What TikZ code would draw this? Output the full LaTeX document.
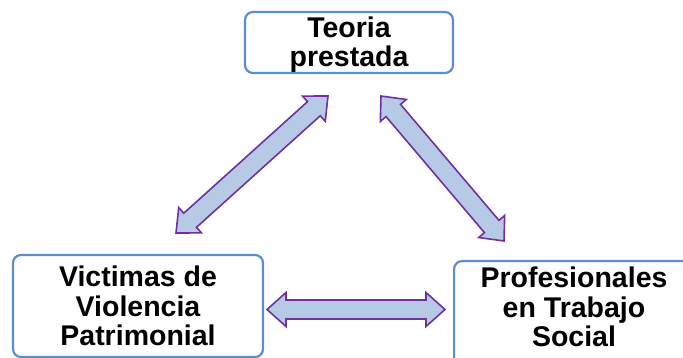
\documentclass[tikz,border=0pt]{standalone}
\usepackage{fontspec}
\setmainfont{Liberation Sans}
\usetikzlibrary{calc}
\definecolor{boxblue}{HTML}{5B8FCB}
\definecolor{arrfill}{HTML}{B6CAE6}
\definecolor{arrline}{HTML}{7030A0}
\tikzset{
  box/.style={draw=boxblue, line width=2.2pt, rounded corners=8pt, fill=white, inner sep=0pt},
  boxtext/.style={font=\fontsize{28.5}{29.5}\selectfont\bfseries, align=center, inner sep=0pt},
  dblarrow/.style={draw=arrline, fill=arrfill, line width=1.6pt, line join=miter},
}
% double block arrow between two named coordinates #1 and #2
\newcommand\dblarr[2]{%
  \path ($(#1)!19pt!(#2)$) coordinate (hA);
  \path ($(#2)!19pt!(#1)$) coordinate (hB);
  \path[dblarrow]
    (#1) -- ($(hA)!17pt!90:(#2)$) -- ($(hA)!9.5pt!90:(#2)$)
    -- ($(hB)!9.5pt!-90:(#1)$) -- ($(hB)!17pt!-90:(#1)$)
    -- (#2) -- ($(hB)!17pt!90:(#1)$) -- ($(hB)!9.5pt!90:(#1)$)
    -- ($(hA)!9.5pt!-90:(#2)$) -- ($(hA)!17pt!-90:(#2)$) -- cycle;
}
\begin{document}
\begin{tikzpicture}[x=1pt,y=-1pt]
\useasboundingbox (0,0) rectangle (683,358);
\clip (0,0) rectangle (683,358);
\fill[white] (0,0) rectangle (683,358);
% boxes
\node[box, minimum width=208pt, minimum height=61pt] (teoria) at (349,42.5) {};
\node[boxtext] (teoriatext) at (349,44.5) {Teoria\\prestada};
\node[box, boxtext, minimum width=250pt, minimum height=102pt] (victimas) at (138,306) {Victimas de\\Violencia\\Patrimonial};
\node[box, minimum width=250pt, minimum height=130pt, anchor=north west] (prof) at (453,260) {};
\node[boxtext] (proftext) at (574,307) {Profesionales\\en Trabajo\\Social};
% arrow end points
\coordinate (a1) at (176,233);
\coordinate (a2) at (328,96);
\coordinate (b1) at (381,96);
\coordinate (b2) at (504,241);
\coordinate (c1) at (267,309.5);
\coordinate (c2) at (445,309.5);
\dblarr{a1}{a2}
\dblarr{b1}{b2}
\dblarr{c1}{c2}
\end{tikzpicture}
\end{document}
